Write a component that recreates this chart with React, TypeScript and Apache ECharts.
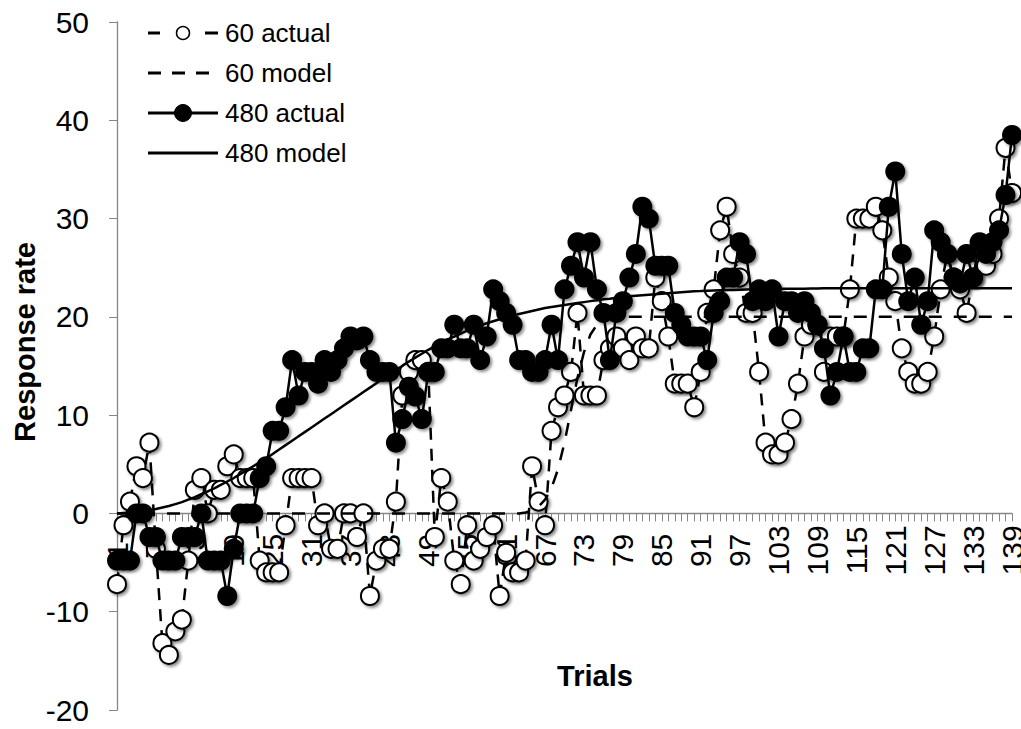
import React, { useEffect, useRef } from "react";
import * as echarts from "echarts";

const trials: string[] = [];
for (let i = 1; i <= 139; i++) trials.push(String(i));

const actual60 = [
  -7.2, -1.2, 1.2, 4.8, 3.6, 7.2, -3.6, -13.2, -14.4, -12.0,
  -10.8, -4.8, 2.4, 3.6, 0, 2.4, 2.4, 4.8, 6.0, 3.6,
  3.6, 3.6, -4.8, -6.0, -6.0, -6.0, -1.2, 3.6, 3.6, 3.6,
  3.6, -1.2, 0, -3.6, -3.6, 0, 0, -2.4, 0, -8.4,
  -4.8, -3.6, -3.6, 1.2, 12.0, 14.4, 15.6, 15.6, 14.4, -2.4,
  3.6, 1.2, -4.8, -7.2, -1.2, -4.8, -3.6, -2.4, -1.2, -8.4,
  -4.0, -6.0, -6.0, -4.8, 4.8, 1.2, -1.2, 8.4, 10.8, 12.0,
  14.4, 20.4, 12.0, 12.0, 12.0, 15.6, 16.8, 18.0, 16.8, 15.6,
  18.0, 16.8, 16.8, 24.0, 21.6, 18.0, 13.2, 13.2, 13.2, 10.8,
  14.4, 20.4, 22.8, 28.8, 31.2, 26.4, 24.0, 20.4, 20.4, 14.4,
  7.2, 6.0, 6.0, 7.2, 9.6, 13.2, 18.0, 19.2, 19.2, 14.4,
  18.0, 18.0, 18.0, 22.8, 30.0, 30.0, 30.0, 31.2, 28.8, 24.0,
  21.6, 16.8, 14.4, 13.2, 13.2, 14.4, 18.0, 22.8, 26.4, 24.0,
  22.8, 20.4, 24.0, 26.4, 25.2, 26.4, 30.0, 37.2, 32.6,
];

const model60 = [
  0, 0, 0, 0, 0, 0, 0, 0, 0, 0,
  0, 0, 0, 0, 0, 0, 0, 0, 0, 0,
  0, 0, 0, 0, 0, 0, 0, 0, 0, 0,
  0, 0, 0, 0, 0, 0, 0, 0, 0, 0,
  0, 0, 0, 0, 0, 0, 0, 0, 0, 0,
  0, 0, 0, 0, 0, 0, 0, 0, 0, 0,
  0, 0, 0, 0.1, 0.3, 0.7, 1.4, 2.6, 4.5, 7.2,
  10.5, 13.8, 16.4, 18.2, 19.2, 19.7, 19.9, 20, 20, 20,
  20, 20, 20, 20, 20, 20, 20, 20, 20, 20,
  20, 20, 20, 20, 20, 20, 20, 20, 20, 20,
  20, 20, 20, 20, 20, 20, 20, 20, 20, 20,
  20, 20, 20, 20, 20, 20, 20, 20, 20, 20,
  20, 20, 20, 20, 20, 20, 20, 20, 20, 20,
  20, 20, 20, 20, 20, 20, 20, 20, 20,
];

const actual480 = [
  -4.8, -4.8, -4.8, 0, 0, -2.4, -2.4, -4.8, -4.8, -4.8,
  -2.4, -2.4, -2.4, 0, -4.8, -4.8, -4.8, -8.4, -3.6, 0,
  0, 0, 3.6, 4.8, 8.4, 8.4, 10.8, 15.6, 12.0, 14.4,
  14.4, 13.2, 15.6, 14.4, 15.6, 16.8, 18.0, 17.6, 18.0, 15.6,
  14.4, 14.4, 14.4, 7.2, 9.6, 12.9, 11.9, 9.6, 14.4, 14.4,
  16.8, 16.8, 19.2, 16.8, 16.8, 19.2, 15.6, 18.0, 22.8, 21.6,
  20.4, 19.2, 15.6, 15.6, 14.4, 14.4, 15.6, 19.2, 15.6, 22.8,
  25.2, 27.6, 24.0, 27.6, 22.8, 20.4, 15.6, 20.4, 21.6, 24.0,
  26.4, 31.2, 30.0, 25.2, 25.2, 25.2, 20.4, 19.2, 18.0, 18.0,
  18.0, 15.6, 20.4, 21.6, 24.0, 24.0, 27.6, 26.4, 21.6, 22.8,
  21.6, 22.8, 18.0, 21.6, 21.6, 20.4, 21.6, 20.4, 19.2, 16.8,
  12.0, 14.4, 18.0, 14.4, 14.4, 16.8, 16.8, 22.8, 22.8, 31.2,
  34.8, 26.4, 21.6, 24.0, 19.2, 21.6, 28.8, 27.6, 26.4, 24.0,
  23.4, 26.4, 24.0, 27.6, 26.4, 27.6, 28.8, 32.4, 38.5,
];

const model480 = [
  0, 0.05, 0.1, 0.15, 0.25, 0.35, 0.45, 0.6, 0.75, 0.95,
  1.15, 1.4, 1.65, 1.95, 2.25, 2.55, 2.9, 3.25, 3.6, 4.0,
  4.4, 4.8, 5.2, 5.6, 6.05, 6.5, 6.95, 7.4, 7.85, 8.3,
  8.75, 9.2, 9.65, 10.1, 10.55, 11.0, 11.45, 11.9, 12.35, 12.8,
  13.25, 13.7, 14.15, 14.6, 15.0, 15.45, 15.85, 16.25, 16.65, 17.0,
  17.35, 17.7, 18.0, 18.3, 18.6, 18.85, 19.1, 19.35, 19.55, 19.75,
  19.95, 20.15, 20.3, 20.45, 20.6, 20.75, 20.9, 21.0, 21.1, 21.2,
  21.3, 21.4, 21.5, 21.6, 21.7, 21.8, 21.85, 21.95, 22.0, 22.1,
  22.15, 22.2, 22.25, 22.3, 22.35, 22.4, 22.45, 22.5, 22.55, 22.6,
  22.62, 22.65, 22.68, 22.7, 22.72, 22.74, 22.76, 22.78, 22.8, 22.81,
  22.82, 22.83, 22.84, 22.85, 22.86, 22.87, 22.87, 22.88, 22.88, 22.9,
  22.9, 22.9, 22.9, 22.9, 22.9, 22.9, 22.9, 22.9, 22.9, 22.9,
  22.9, 22.9, 22.9, 22.9, 22.9, 22.9, 22.9, 22.9, 22.9, 22.9,
  22.9, 22.9, 22.9, 22.9, 22.9, 22.9, 22.9, 22.9, 22.9,
];

const seriesNames = ["60 actual", "60 model", "480 actual", "480 model"];
const yMin = -20;
const yMax = 50;
const yInterval = 10;

const FONT = '"Liberation Sans", Arial, Helvetica, sans-serif';
const AXIS_GRAY = "#868686";

const GRID_TOP = 22;
const GRID_BOTTOM = 19;
const CHART_H = 729;
const PLOT_H = CHART_H - GRID_TOP - GRID_BOTTOM;
// move the category axis (line, ticks, labels) up to the y = 0 position
const X_AXIS_OFFSET = -PLOT_H * (0 - yMin) / (yMax - yMin);

const shadow = {
  shadowBlur: 3,
  shadowOffsetX: 2,
  shadowOffsetY: 2,
  shadowColor: "rgba(0,0,0,0.45)",
};

export default function App() {
  const ref = useRef<HTMLDivElement>(null);

  useEffect(() => {
    if (!ref.current) return;
    const chart = echarts.init(ref.current, undefined, { renderer: "svg" });

    const legendX1 = 148;
    const legendX2 = 218;
    const legendTextX = 225;
    const legendY = [33, 73, 113, 153];
    const textStyle = (t: string, y: number) => ({
      type: "text",
      x: legendTextX,
      y,
      style: {
        text: t,
        fill: "#000",
        fontSize: 26,
        fontFamily: FONT,
        align: "left",
        verticalAlign: "middle",
      },
    });

    chart.setOption({
      animation: false,
      backgroundColor: "#fff",
      grid: {
        left: 117,
        right: 9,
        top: GRID_TOP,
        bottom: GRID_BOTTOM,
        containLabel: false,
        outerBoundsMode: "none",
      },
      xAxis: {
        type: "category",
        data: trials,
        boundaryGap: false,
        position: "bottom",
        offset: X_AXIS_OFFSET,
        axisLine: { onZero: false, lineStyle: { color: AXIS_GRAY, width: 1.3 } },
        axisTick: { show: true, interval: 0, length: 8, lineStyle: { color: AXIS_GRAY } },
        axisLabel: {
          interval: 5,
          rotate: 90,
          align: "center",
          verticalAlign: "middle",
          margin: 37,
          fontSize: 30,
          fontFamily: FONT,
          color: "#000",
        },
        splitLine: { show: false },
      },
      yAxis: {
        type: "value",
        min: yMin,
        max: yMax,
        interval: yInterval,
        axisLine: { show: true, lineStyle: { color: AXIS_GRAY, width: 1.3 } },
        axisTick: { show: true, length: 8, lineStyle: { color: AXIS_GRAY } },
        axisLabel: { fontSize: 30, fontFamily: FONT, color: "#000", margin: 28 },
        splitLine: { show: false },
      },
      series: [
        {
          name: seriesNames[0],
          type: "line",
          data: actual60,
          symbol: "circle",
          symbolSize: 18,
          showAllSymbol: true,
          lineStyle: { color: "#000", width: 2.5, type: [12, 9] },
          itemStyle: { color: "#fff", borderColor: "#000", borderWidth: 2, ...shadow },
          z: 2,
        },
        {
          name: seriesNames[1],
          type: "line",
          data: model60,
          symbol: "none",
          lineStyle: { color: "#000", width: 2.5, type: [13, 12] },
          z: 3,
        },
        {
          name: seriesNames[2],
          type: "line",
          data: actual480,
          symbol: "circle",
          symbolSize: 20,
          showAllSymbol: true,
          lineStyle: { color: "#000", width: 2.5 },
          itemStyle: { color: "#000", borderColor: "#000", borderWidth: 0, ...shadow },
          z: 4,
        },
        {
          name: seriesNames[3],
          type: "line",
          data: model480,
          symbol: "none",
          lineStyle: { color: "#000", width: 2.5 },
          z: 5,
        },
      ],
      graphic: [
        {
          type: "text",
          x: 25,
          y: 342,
          rotation: Math.PI / 2,
          style: {
            text: "Response rate",
            fill: "#000",
            fontSize: 29,
            fontWeight: "bold",
            fontFamily: FONT,
            align: "center",
            verticalAlign: "middle",
          },
        },
        {
          type: "text",
          x: 595,
          y: 676,
          style: {
            text: "Trials",
            fill: "#000",
            fontSize: 29,
            fontWeight: "bold",
            fontFamily: FONT,
            align: "center",
            verticalAlign: "middle",
          },
        },
        {
          type: "line",
          shape: { x1: legendX1, y1: legendY[0], x2: legendX1 + 12, y2: legendY[0] },
          style: { stroke: "#000", lineWidth: 3 },
        },
        {
          type: "line",
          shape: { x1: legendX2 - 13, y1: legendY[0], x2: legendX2, y2: legendY[0] },
          style: { stroke: "#000", lineWidth: 3 },
        },
        {
          type: "circle",
          shape: { cx: 183, cy: legendY[0], r: 6.5 },
          style: { fill: "#fff", stroke: "#000", lineWidth: 1.5 },
        },
        textStyle(seriesNames[0], legendY[0]),
        {
          type: "line",
          shape: { x1: legendX1, y1: legendY[1], x2: legendX2, y2: legendY[1] },
          style: { stroke: "#000", lineWidth: 3, lineDash: [13, 11] },
        },
        textStyle(seriesNames[1], legendY[1]),
        {
          type: "line",
          shape: { x1: legendX1, y1: legendY[2], x2: legendX2, y2: legendY[2] },
          style: { stroke: "#000", lineWidth: 3 },
        },
        {
          type: "circle",
          shape: { cx: 183, cy: legendY[2], r: 8.5 },
          style: { fill: "#000", stroke: "#000", lineWidth: 1 },
        },
        textStyle(seriesNames[2], legendY[2]),
        {
          type: "line",
          shape: { x1: legendX1, y1: legendY[3], x2: legendX2, y2: legendY[3] },
          style: { stroke: "#000", lineWidth: 3 },
        },
        textStyle(seriesNames[3], legendY[3]),
      ],
    });

    return () => chart.dispose();
  }, []);

  return (
    <div
      ref={ref}
      style={{ position: "fixed", left: 0, top: 0, width: 1021, height: 729, background: "#fff" }}
    />
  );
}
